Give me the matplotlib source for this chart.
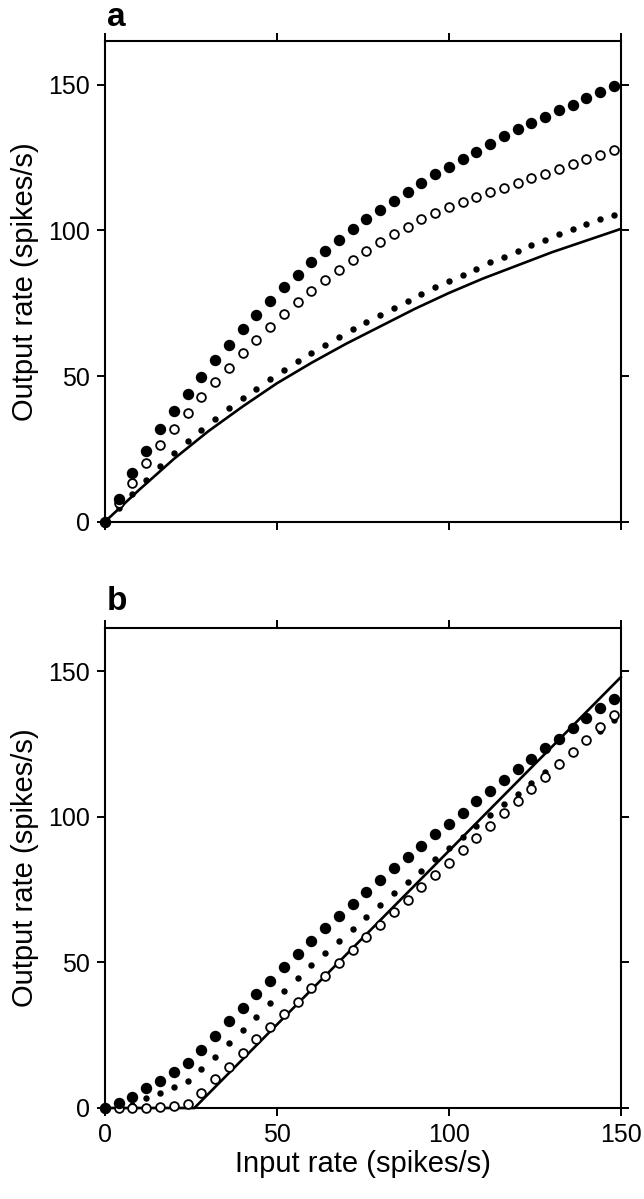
import matplotlib
matplotlib.use("Agg")
import matplotlib.pyplot as plt

plt.rcParams['font.family'] = ['Liberation Sans', 'DejaVu Sans']

# input rates for the simulated points (spikes/s)
x_pts = list(range(0, 149, 4))

# panel a
a_filled = [0, 7.8, 16.6, 24.2, 31.7, 38, 44, 49.8, 55.4, 60.8, 66, 71, 75.8,
            80.4, 84.8, 89, 93, 96.8, 100.4, 103.8, 107, 110, 113, 116.2, 119.3,
            121.9, 124.4, 126.9, 129.5, 132.4, 134.7, 136.7, 139, 141.3, 143.2,
            145.5, 147.6, 149.7]
a_open = [0, 6.4, 13.4, 20, 26.3, 31.7, 37.3, 42.7, 47.9, 52.9, 57.8, 62.4,
          66.9, 71.2, 75.3, 79.2, 82.9, 86.4, 89.8, 93, 95.9, 98.7, 101.3,
          103.8, 106, 108, 109.9, 111.6, 113, 114.7, 116.4, 117.9, 119.3, 121,
          122.7, 124.4, 125.8, 127.6]
a_small = [0, 4.8, 9.5, 14.3, 19.2, 23.5, 27.6, 31.5, 35.3, 38.9, 42.4, 45.7,
           48.9, 52, 55, 57.9, 60.7, 63.4, 66, 68.5, 71, 73.4, 75.8, 78.1,
           80.4, 82.6, 84.8, 86.9, 89, 91, 93, 94.9, 96.8, 98.6, 100.4, 102.1,
           103.8, 105.3]
a_line_x = [0, 10, 20, 30, 40, 50, 60, 70, 80, 90, 100, 110, 120, 130, 140, 150]
a_line_y = [0, 11, 21.5, 31, 39.5, 47.5, 54.5, 61, 67, 73, 78.5, 83.5, 88,
            92.5, 96.5, 100.5]

# panel b
b_filled = [0, 1.6, 3.9, 6.8, 9.4, 12.2, 15.3, 19.9, 24.7, 29.9, 34.4, 39, 43.7,
            48.3, 52.8, 57.3, 61.7, 66, 70, 74.3, 78.3, 82.3, 86.3, 90, 94,
            97.7, 101.5, 105.5, 109, 112.8, 116.3, 119.8, 123.5, 126.9, 130.6,
            134, 137.4, 140.6]
b_open = [0, 0, 0, 0, 0.3, 0.7, 1.4, 5, 10, 14.2, 19, 23.6, 27.9, 32.2, 36.5,
          41.1, 45.3, 49.9, 54.2, 58.6, 62.8, 67.2, 71.4, 75.8, 80, 84.2, 88.6,
          92.8, 97, 101.2, 105.5, 109.7, 113.7, 118.3, 122.3, 126.5, 130.9,
          134.9]
b_small = [0, 0.3, 1.2, 3.6, 5.3, 7.3, 9.3, 13.4, 17.6, 22.4, 26.8, 31.3, 35.9,
           40.3, 44.5, 49.1, 53.1, 57.3, 61.4, 65.5, 69.7, 73.7, 77.5, 81.5,
           85.4, 89.2, 93.2, 96.8, 100.6, 104.4, 108, 111.8, 115.5, 119, 122.5,
           126, 129.6, 133.4]
b_line_x = [0, 26, 150]
b_line_y = [0, 0, 148]

ticks = [0, 50, 100, 150]

fig = plt.figure(figsize=(6.44, 11.99), dpi=100)
ax_a = fig.add_axes([0.163, 0.5649, 0.801, 0.4009])
ax_b = fig.add_axes([0.163, 0.0759, 0.801, 0.4006])

panels = [(ax_a, a_filled, a_open, a_small, a_line_x, a_line_y),
          (ax_b, b_filled, b_open, b_small, b_line_x, b_line_y)]

for ax, filled, opn, small, lx, ly in panels:
    ax.plot(lx, ly, color='black', lw=1.9, zorder=2)
    ax.plot(x_pts, small, 'o', color='black', ms=3.6, zorder=3)
    ax.plot(x_pts, opn, 'o', mfc='white', mec='black', mew=1.3, ms=6.3, zorder=4)
    ax.plot(x_pts, filled, 'o', color='black', ms=7.2, zorder=5)
    ax.set_xlim(0, 150)
    ax.set_ylim(0, 165)
    ax.set_xticks(ticks)
    ax.set_yticks(ticks)
    ax.tick_params(direction='out', length=6, width=1.4, labelsize=18,
                   top=True, right=True, pad=5)
    for s in ax.spines.values():
        s.set_linewidth(1.5)
    ax.set_ylabel('Output rate (spikes/s)', fontsize=21, labelpad=6)
    for ln in ax.lines:
        ln.set_clip_on(False)

ax_a.tick_params(labelbottom=False)
ax_b.set_xlabel('Input rate (spikes/s)', fontsize=21, labelpad=2)

fig.text(0.166, 1 - 26 / 1199, 'a', fontsize=24, fontweight='bold',
         va='baseline', ha='left')
fig.text(0.166, 1 - 610 / 1199, 'b', fontsize=24, fontweight='bold',
         va='baseline', ha='left')

fig.savefig('out.png', dpi=100)
